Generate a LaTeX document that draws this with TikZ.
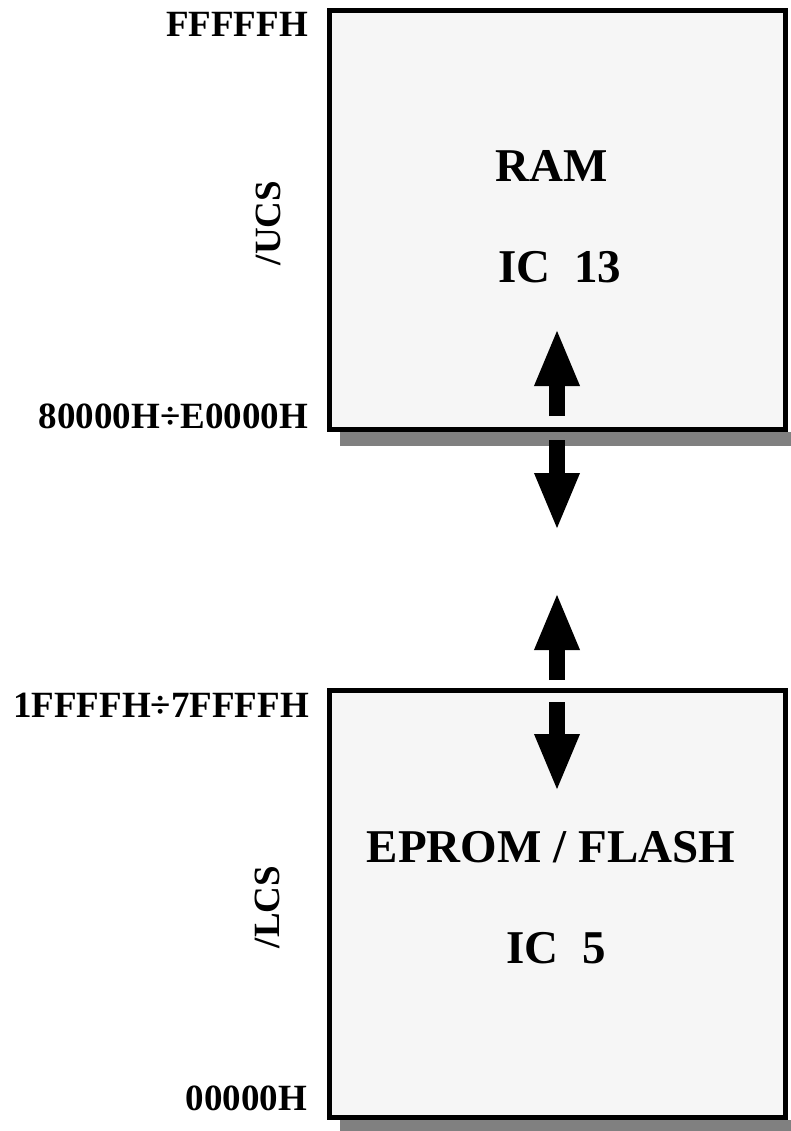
\documentclass[tikz,border=0pt]{standalone}
\usepackage{fontspec}
\setmainfont{Liberation Serif}
\usetikzlibrary{arrows.meta}
\definecolor{chipfill}{HTML}{F6F6F6}
\definecolor{shadowgray}{HTML}{808080}
\begin{document}
\begin{tikzpicture}[x=1pt,y=-1pt,
  chip/.style={draw=black, line width=5pt, fill=chipfill, inner sep=0pt,
    minimum width=456pt},
  chiptext/.style={font=\bfseries\fontsize{47}{56}\selectfont, anchor=base, inner sep=0pt},
  addr/.style={font=\bfseries\fontsize{37}{44}\selectfont, anchor=base east, inner sep=0pt},
  csel/.style={font=\bfseries\fontsize{37}{44}\selectfont, anchor=base, rotate=90, inner sep=0pt},
  busarrow/.style={line width=16pt, line cap=butt,
    -{Triangle[width=41pt,length=58pt]}}
]
\useasboundingbox (0,0) rectangle (790,1131);

% memory chips (placed first so their anchors can be used for the shadows)
\node[chip, minimum height=419pt] (ram) at (557.5,220) {};
\node[chip, minimum height=427pt] (rom) at (557.5,904) {};

% drop shadows below the chips
\fill[shadowgray] ([shift={(13,14)}]ram.south west) rectangle ([shift={(13,0)}]ram.south east);
\fill[shadowgray] ([shift={(13,14)}]rom.south west) rectangle ([shift={(13,0)}]rom.south east);

% chip labels
\node[chiptext] (ramname) at (552,182) {RAM};
\node[chiptext] (ramic) at (560,283) {IC\ \ 13};
\node[chiptext] (romname) at (551,862) {EPROM / FLASH};
\node[chiptext] (romic) at (556,963) {IC\ \ 5};

% address ranges
\node[addr] (atop) at (308,37) {FFFFFH};
\node[addr] (aram) at (308,428) {80000H÷E0000H};
\node[addr] (arom) at (309,717) {1FFFFH÷7FFFFH};
\node[addr] (abot) at (307,1110) {00000H};

% chip select lines
\node[csel] (ucs) at (280,223) {/UCS};
\node[csel] (lcs) at (279,907) {/LCS};

% data bus arrows
\coordinate (u1s) at (557,416); \coordinate (u1t) at (557,328);
\coordinate (d1s) at (557,440); \coordinate (d1t) at (557,531);
\coordinate (u2s) at (557,680); \coordinate (u2t) at (557,592);
\coordinate (d2s) at (557,702); \coordinate (d2t) at (557,792);
\draw[busarrow] (u1s) -- (u1t);
\draw[busarrow] (d1s) -- (d1t);
\draw[busarrow] (u2s) -- (u2t);
\draw[busarrow] (d2s) -- (d2t);
\end{tikzpicture}
\end{document}
